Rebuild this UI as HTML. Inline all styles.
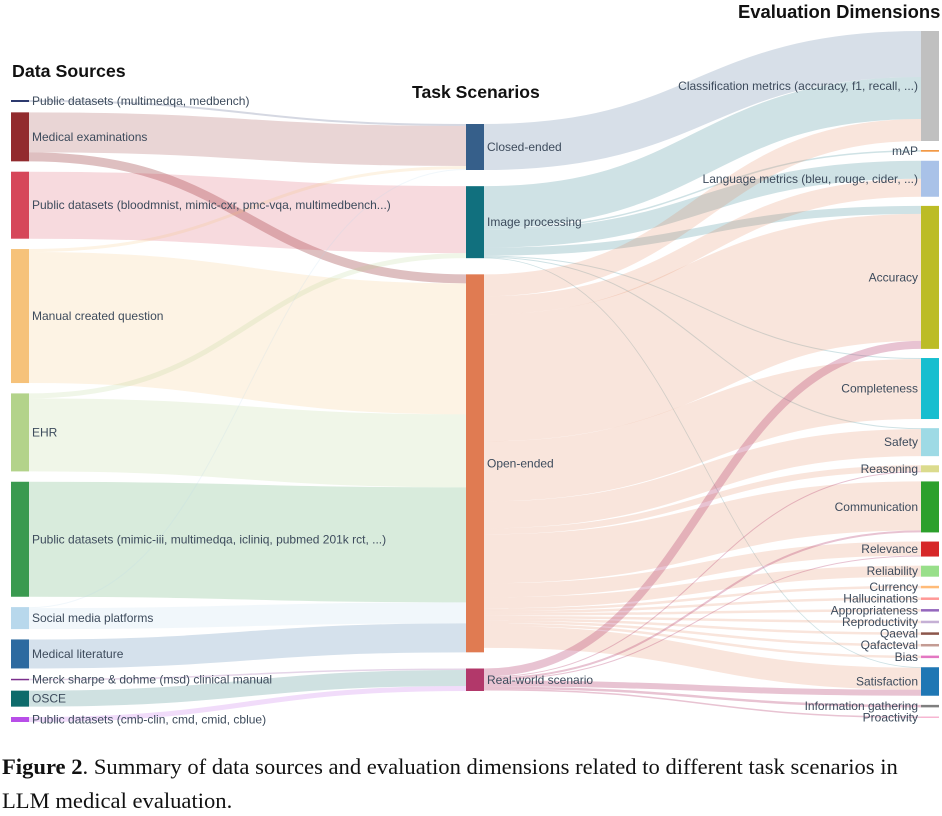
<!DOCTYPE html>
<html><head><meta charset="utf-8">
<style>
body{margin:0;background:#fff;width:942px;height:816px;overflow:hidden;font-family:"Liberation Sans",sans-serif}
svg{position:absolute;left:0;top:0}
.cap{position:absolute;left:2px;font-family:"Liberation Serif",serif;font-size:22.6px;color:#111;white-space:nowrap}
</style></head>
<body>
<svg id="chart" width="942" height="750" viewBox="0 0 942 750">
<g id="links"></g>
<g id="nodes"></g>
<text x="12" y="77" font-size="17.8" font-weight="bold" fill="#111">Data Sources</text>
<text x="412" y="98" font-size="17.6" font-weight="bold" fill="#111">Task Scenarios</text>
<text x="738" y="18" font-size="18.4" font-weight="bold" fill="#111">Evaluation Dimensions</text>
</svg>
<div class="cap" style="top:754px"><b>Figure 2</b>. Summary of data sources and evaluation dimensions related to different task scenarios in</div>
<div class="cap" style="top:788px">LLM medical evaluation.</div>
<script>
const sources = ["Public datasets (multimedqa, medbench)","Medical examinations","Public datasets (bloodmnist, mimic-cxr, pmc-vqa, multimedbench...)","Manual created question","EHR","Public datasets (mimic-iii, multimedqa, icliniq, pubmed 201k rct, ...)","Social media platforms","Medical literature","Merck sharpe & dohme (msd) clinical manual","OSCE","Public datasets (cmb-clin, cmd, cmid, cblue)"];
const tasks = ["Closed-ended","Image processing","Open-ended","Real-world scenario"];
const dims = ["Classification metrics (accuracy, f1, recall, ...)","mAP","Language metrics (bleu, rouge, cider, ...)","Accuracy","Completeness","Safety","Reasoning","Communication","Relevance","Reliability","Currency","Hallucinations","Appropriateness","Reproductivity","Qaeval","Qafacteval","Bias","Satisfaction","Information gathering","Proactivity"];
const sourceColors = ["#2c3a6e","#922b2e","#d6475a","#f6c27a","#b3d38a","#3a9a50","#b8d8ec","#2d6aa0","#7b2f8c","#0e6b6b","#b84ee8"];
const taskColors = ["#365f8a","#11707e","#e07b52","#b2386a"];
const dimColors = ["#c0c0c0","#f08a2a","#a9c2e8","#bcbc26","#17becf","#9edae5","#dbdb8d","#2ca02c","#d62728","#98df8a","#ffbb78","#ff9896","#9467bd","#c5b0d5","#8c564b","#c49c94","#e377c2","#1f77b4","#7f7f7f","#f7b6d2"];
const linkFrom = ["Public datasets (multimedqa, medbench)","Medical examinations","Medical examinations","Public datasets (bloodmnist, mimic-cxr, pmc-vqa, multimedbench...)","Manual created question","Manual created question","EHR","EHR","Public datasets (mimic-iii, multimedqa, icliniq, pubmed 201k rct, ...)","Social media platforms","Social media platforms","Medical literature","Merck sharpe & dohme (msd) clinical manual","OSCE","Public datasets (cmb-clin, cmd, cmid, cblue)",
"Closed-ended","Image processing","Image processing","Image processing","Image processing","Image processing","Image processing","Image processing",
"Open-ended","Open-ended","Open-ended","Open-ended","Open-ended","Open-ended","Open-ended","Open-ended","Open-ended","Open-ended","Open-ended","Open-ended","Open-ended","Open-ended","Open-ended","Open-ended","Open-ended",
"Real-world scenario","Real-world scenario","Real-world scenario","Real-world scenario","Real-world scenario","Real-world scenario","Real-world scenario"];
const linkTo = ["Closed-ended","Closed-ended","Open-ended","Image processing","Closed-ended","Open-ended","Image processing","Open-ended","Open-ended","Closed-ended","Open-ended","Open-ended","Real-world scenario","Real-world scenario","Real-world scenario",
"Classification metrics (accuracy, f1, recall, ...)","Classification metrics (accuracy, f1, recall, ...)","mAP","Language metrics (bleu, rouge, cider, ...)","Accuracy","Completeness","Safety","Satisfaction",
"Classification metrics (accuracy, f1, recall, ...)","Language metrics (bleu, rouge, cider, ...)","Accuracy","Completeness","Safety","Reasoning","Communication","Relevance","Reliability","Currency","Hallucinations","Appropriateness","Reproductivity","Qaeval","Qafacteval","Bias","Satisfaction",
"Accuracy","Reasoning","Communication","Relevance","Satisfaction","Information gathering","Proactivity"];
const linkValue = [2,40,9,67,3,131,5,73,115,1,21,29,1.5,16,5,
46,42,1.5,18,8,1,1,0.5,
22,18,127,60,27,6,49,14,11,2.5,2.5,2.5,2.5,2.5,2.5,2.5,22,
8,1,2,1,6,2.5,1.5];

// ---- layout ----
const NS='http://www.w3.org/2000/svg';
const cols=[sources,tasks,dims];
const colColors=[sourceColors,taskColors,dimColors];
const colX=[11,466,921], nodeW=18;
const colTop=[100,124,31], colBot=[722,691,718];
const node={};
cols.forEach((c,ci)=>c.forEach((n,i)=>{node[n]={name:n,col:ci,idx:i,color:colColors[ci][i],inV:0,outV:0,outs:[],ins:[]};}));
const links=linkFrom.map((f,i)=>({s:node[f],t:node[linkTo[i]],v:linkValue[i]}));
links.forEach(l=>{l.s.outV+=l.v;l.t.inV+=l.v;l.s.outs.push(l);l.t.ins.push(l);});
cols.forEach((c,ci)=>{
  const vals=c.map(n=>Math.max(node[n].inV,node[n].outV));
  const sum=vals.reduce((a,b)=>a+b,0);
  const pad=(colBot[ci]-colTop[ci]-sum)/(c.length-1);
  let y=colTop[ci];
  c.forEach((n,i)=>{const d=node[n];d.x=colX[ci];d.y0=y;d.h=vals[i];y+=vals[i]+pad;});
});
Object.values(node).forEach(d=>{
  d.outs.sort((a,b)=>a.t.y0-b.t.y0);
  d.ins.sort((a,b)=>a.s.y0-b.s.y0);
  let y=d.y0; d.outs.forEach(l=>{l.sy=y+l.v/2;y+=l.v;});
  y=d.y0; d.ins.forEach(l=>{l.ty=y+l.v/2;y+=l.v;});
});
const gL=document.getElementById('links');
links.forEach(l=>{
  const p=document.createElementNS(NS,'path');
  const x0=l.s.x+nodeW,x1=l.t.x,xm=(x0+x1)/2;
  p.setAttribute('d',`M${x0},${l.sy}C${xm},${l.sy} ${xm},${l.ty} ${x1},${l.ty}`);
  p.setAttribute('fill','none');
  p.setAttribute('stroke',l.s.color);
  p.setAttribute('stroke-opacity',(l.s.name==='Medical examinations'&&l.t.name==='Open-ended')?0.3:(l.s.name==='Real-world scenario'?0.3:0.2));
  p.setAttribute('stroke-width',Math.max(l.v,0.8));
  
  
  gL.appendChild(p);
});
const gN=document.getElementById('nodes');
Object.values(node).forEach(d=>{
  const r=document.createElementNS(NS,'rect');
  r.setAttribute('x',d.x);r.setAttribute('y',d.y0);
  r.setAttribute('width',nodeW);r.setAttribute('height',Math.max(d.h,1.5));
  r.setAttribute('fill',d.color);
  
  
  gN.appendChild(r);
  const t=document.createElementNS(NS,'text');
  const cy=d.y0+d.h/2;
  if(d.col===2){t.setAttribute('x',d.x-3);t.setAttribute('text-anchor','end');}
  else{t.setAttribute('x',d.x+nodeW+3);}
  t.setAttribute('y',cy+4);
  t.setAttribute('font-size','12');
  t.setAttribute('fill','#3d4b5c');
  t.textContent=d.name;
  
  
  gN.appendChild(t);
});
</script>
</body></html>
